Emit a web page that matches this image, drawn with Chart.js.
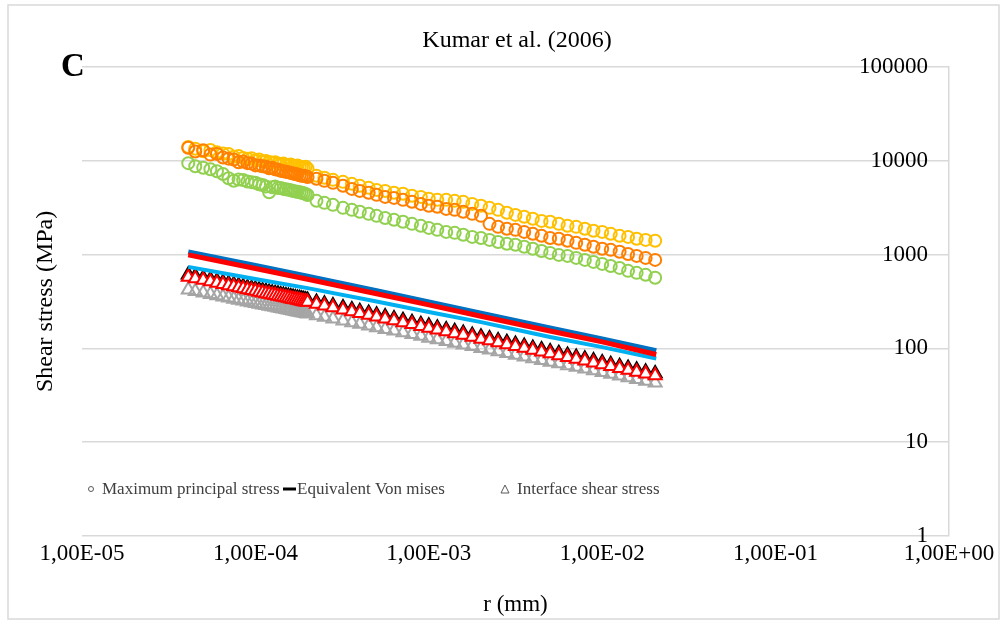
<!DOCTYPE html>
<html>
<head>
<meta charset="utf-8">
<title>Kumar et al. (2006)</title>
<script src="https://cdn.jsdelivr.net/npm/chart.js@4.4.1/dist/chart.umd.min.js"></script>
<style>
  html, body { margin: 0; padding: 0; background: #fff; }
  #wrap { width: 1007px; height: 624px; }
</style>
</head>
<body>
<div id="wrap"><canvas id="chart" width="1007" height="624"></canvas></div>
<script>
// r (mm) for the marker series
var rPts = [4.1e-5, 4.5e-5, 5.0e-5, 5.5e-5, 6.0e-5, 6.5e-5, 7.0e-5, 7.5e-5, 8.0e-5, 8.5e-5, 9.0e-5,
  9.5e-5, 1.0e-4, 1.05e-4, 1.1e-4, 1.15e-4, 1.2e-4, 1.25e-4, 1.3e-4, 1.35e-4, 1.4e-4, 1.45e-4,
  1.5e-4, 1.55e-4, 1.6e-4, 1.65e-4, 1.7e-4, 1.75e-4, 1.8e-4, 1.85e-4, 1.9e-4, 1.95e-4, 2.0e-4,
  2.25e-4, 2.5e-4, 2.8e-4, 3.2e-4, 3.6e-4, 4.0e-4, 4.5e-4, 5.0e-4, 5.6e-4, 6.3e-4, 7.1e-4, 8.0e-4,
  9.0e-4, 1.0e-3, 1.12e-3, 1.26e-3, 1.41e-3, 1.58e-3, 1.78e-3, 2.0e-3,
  2.24e-3, 2.51e-3, 2.82e-3, 3.16e-3, 3.55e-3, 3.98e-3, 4.47e-3, 5.01e-3, 5.62e-3, 6.31e-3, 7.08e-3,
  7.94e-3, 8.91e-3, 1.0e-2, 1.12e-2, 1.26e-2, 1.41e-2, 1.58e-2, 1.78e-2, 2.02e-2];

// maximum principal stress (circles)
var yellowCirc = [14000, 13400, 12600, 13000, 12300, 11900, 11800, 11000, 11200, 10700, 10500, 10600, 10100,
  10300, 9800, 9900, 9700, 9500, 9600, 9300, 9200, 9300, 9000, 8900, 9100, 8800, 8700, 8900, 8600, 8500, 8400, 8600, 8200,
  6890, 6560, 6240, 5940, 5660, 5390, 5130, 4880, 4760, 4540, 4430, 4220, 4110, 3920, 3820, 3820, 3730, 3640, 3460, 3300,
  3140, 2990, 2780, 2640, 2520, 2400, 2280, 2230, 2120, 2020, 1970, 1880, 1790, 1740, 1660, 1580, 1540, 1470, 1430, 1400];
var orangeCirc = [13700, 12500, 12900, 11600, 11800, 10800, 10500, 10300, 9600, 9800, 9400, 9300, 8900,
  8900, 8700, 8600, 8300, 8400, 8100, 8000, 7800, 7700, 7600, 7500, 7400, 7300, 7200, 7100, 7000, 6900, 6900, 6800, 6700,
  6400, 6090, 5800, 5390, 5000, 4760, 4540, 4320, 4110, 4010, 3820, 3640, 3460, 3300, 3220, 3060, 2990, 2850, 2710, 2580,
  2120, 1970, 1880, 1830, 1740, 1660, 1580, 1500, 1470, 1400, 1330, 1270, 1210, 1150, 1120, 1070, 1010, 966, 920, 876];
var greenCirc = [9400, 8700, 8400, 8100, 7700, 7200, 6500, 6100, 6300, 6200, 6000, 5900, 5800,
  5600, 5500, 5300, 4600, 5200, 5300, 5100, 5100, 5000, 4950, 4900, 4850, 4750, 4700, 4650, 4600, 4550, 4500, 4400, 4300,
  3730, 3550, 3380, 3140, 2990, 2850, 2710, 2580, 2450, 2340, 2230, 2120, 2020, 1920, 1830, 1740, 1700, 1620, 1540, 1500,
  1430, 1360, 1300, 1270, 1210, 1150, 1090, 1040, 990, 966, 920, 876, 834, 794, 755, 719, 669, 637, 607, 564];

// interface shear stress (triangles)
var blackTri = [607, 585, 561, 541, 523, 507, 492, 479, 467, 456, 446, 437, 428, 420, 412, 405, 399, 392, 387,
  381, 375, 370, 365, 361, 356, 352, 348, 344, 341, 337, 333, 330, 327,
  312, 299, 286, 272, 260, 249, 238, 228, 218, 208, 199, 190, 181, 174, 166, 159, 152, 146, 139, 133,
  127, 121, 116, 111, 106, 101, 96.9, 92.7, 88.6, 84.7, 80.9, 77.4, 74.0, 70.7, 67.7, 64.6, 61.8, 59.1, 56.4, 54.0];
var redTri = [577, 556, 533, 514, 497, 482, 467, 455, 444, 433, 424, 415, 407, 399, 391, 385, 379, 372, 368,
  362, 356, 352, 347, 343, 338, 334, 331, 327, 324, 320, 316, 314, 311,
  296, 284, 272, 258, 247, 237, 226, 217, 207, 198, 189, 181, 172, 165, 158, 151, 144, 139, 132, 126,
  121, 115, 110, 105, 101, 96, 92, 88, 84, 80.5, 77, 73.5, 70.3, 67.2, 64.3, 61.4, 58.7, 56.1, 53.6, 51.3];
var greyTri = [420, 405, 390, 377, 365, 354, 345, 336, 328, 321, 314, 308, 302, 297, 292, 287, 283, 279, 275,
  271, 267, 264, 261, 257, 254, 251, 249, 246, 244, 241, 239, 237, 234,
  224, 216, 207, 197, 189, 182, 174, 167, 160, 154, 147, 141, 135, 129, 124, 119, 114, 109, 105, 100,
  96.4, 92.3, 88.5, 84.9, 81.3, 78.0, 74.7, 71.6, 68.7, 65.8, 63.1, 60.4, 57.9, 55.6, 53.2, 51.0, 48.9, 46.9, 44.9, 43.0];

// equivalent Von mises (lines)
var rLine = [4.1e-5, 1e-4, 2e-4, 5e-4, 1e-3, 2e-3, 5e-3, 1e-2, 2.05e-2];
var darkBlueLine = [1067, 762, 587, 411, 312, 237, 165, 126, 94.5];
var redLine = [991, 708, 545, 382, 290, 220, 153, 117, 86];
var lightBlueLine = [738, 547, 438, 316, 244, 190, 132, 103, 78];

var xTicks = [1e-5, 1e-4, 1e-3, 1e-2, 1e-1, 1];
var yTicks = [1, 10, 100, 1000, 10000, 100000];

var FONT = "'Liberation Serif', 'Times New Roman', serif";

function pts(xs, ys) {
  return xs.map(function (x, i) { return { x: x, y: ys[i] }; });
}

// 1e-5 -> "1,00E-05"
function fmtE(v) {
  var s = Number(v).toExponential(2).split('e');
  var e = parseInt(s[1], 10);
  var ex = (e < 0 ? '-' : '+') + (Math.abs(e) < 10 ? '0' : '') + Math.abs(e);
  return s[0].replace('.', ',') + 'E' + ex;
}

function lineSet(label, data, color, w) {
  return { label: label, data: pts(rLine, data), showLine: true, borderColor: color,
    backgroundColor: color, borderWidth: w, pointRadius: 0, tension: 0 };
}
function markSet(label, data, color, style, r, fill) {
  return { label: label, data: pts(rPts, data), showLine: false, pointStyle: style,
    pointRadius: r, borderColor: color, pointBorderColor: color, pointBorderWidth: 2,
    pointBackgroundColor: fill, backgroundColor: fill };
}

// frame, panel letter and in-plot legend
var extras = {
  id: 'extras',
  beforeDraw: function (chart) {
    var ctx = chart.ctx;
    ctx.save();
    ctx.fillStyle = '#fff';
    ctx.fillRect(0, 0, chart.width, chart.height);
    ctx.strokeStyle = '#d9d9d9';
    ctx.lineWidth = 1.5;
    ctx.strokeRect(8, 5, 991, 614);
    ctx.restore();
  },
  afterDraw: function (chart) {
    var ctx = chart.ctx;
    ctx.save();
    ctx.fillStyle = '#000';
    ctx.font = 'bold 33px ' + FONT;
    ctx.textAlign = 'center';
    ctx.textBaseline = 'middle';
    ctx.fillText('C', 73, 67);

    var ly = 490;
    ctx.font = '17px ' + FONT;
    ctx.textAlign = 'left';
    ctx.fillStyle = '#404040';
    ctx.strokeStyle = '#595959';
    ctx.lineWidth = 1;
    ctx.beginPath();
    ctx.arc(91, ly - 1, 2.5, 0, Math.PI * 2);
    ctx.stroke();
    ctx.fillText('Maximum principal stress', 102, ly);

    ctx.strokeStyle = '#000';
    ctx.lineWidth = 3;
    ctx.beginPath();
    ctx.moveTo(283, ly - 1);
    ctx.lineTo(296, ly - 1);
    ctx.stroke();
    ctx.fillText('Equivalent Von mises', 297, ly);

    ctx.strokeStyle = '#595959';
    ctx.lineWidth = 1;
    ctx.beginPath();
    ctx.moveTo(505, ly - 5);
    ctx.lineTo(509, ly + 3);
    ctx.lineTo(501, ly + 3);
    ctx.closePath();
    ctx.stroke();
    ctx.fillText('Interface shear stress', 517, ly);
    ctx.restore();
  }
};

new Chart(document.getElementById('chart'), {
  type: 'scatter',
  data: {
    datasets: [
      lineSet('Equivalent Von mises', redLine, '#ff0000', 5),
      lineSet('Equivalent Von mises (2)', darkBlueLine, '#0070c0', 5),
      lineSet('Equivalent Von mises (3)', lightBlueLine, '#00b0f0', 4),
      markSet('Interface shear stress', redTri, '#ff0000', 'triangle', 7.5, '#ffffff'),
      markSet('Interface shear stress (2)', blackTri, '#000000', 'triangle', 7.5, '#ffffff'),
      markSet('Interface shear stress (3)', greyTri, '#a5a5a5', 'triangle', 7.5, 'rgba(255,255,255,0)'),
      markSet('Maximum principal stress', orangeCirc, '#ff7f00', 'circle', 6, 'rgba(255,255,255,0)'),
      markSet('Maximum principal stress (2)', yellowCirc, '#ffc000', 'circle', 6, 'rgba(255,255,255,0)'),
      markSet('Maximum principal stress (3)', greenCirc, '#92d050', 'circle', 6, 'rgba(255,255,255,0)')
    ]
  },
  options: {
    responsive: false,
    animation: false,
    devicePixelRatio: 1,
    layout: { padding: { left: 27, right: 0, top: 0, bottom: 0 } },
    plugins: {
      legend: { display: false },
      tooltip: { enabled: false },
      title: {
        display: true,
        text: 'Kumar et al. (2006)',
        color: '#000',
        font: { family: FONT, size: 24, weight: 'normal' },
        padding: { top: 26, bottom: 12 }
      }
    },
    scales: {
      x: {
        type: 'logarithmic',
        position: 'bottom',
        min: 1e-5,
        max: 1,
        afterBuildTicks: function (s) { s.ticks = xTicks.map(function (v) { return { value: v }; }); },
        afterFit: function (s) { s.height = 88; },
        ticks: {
          autoSkip: false, maxRotation: 0, padding: 4, color: '#000',
          font: { family: FONT, size: 23 },
          callback: function (v) { return fmtE(v); }
        },
        grid: { display: false, drawTicks: false },
        border: { display: false },
        title: {
          display: true, text: 'r (mm)', color: '#000',
          font: { family: FONT, size: 23 },
          padding: { top: 0, bottom: 5 }
        }
      },
      y: {
        type: 'logarithmic',
        position: 'left',
        min: 1,
        max: 100000,
        afterFit: function (s) { s.width = 55; },
        ticks: { display: false },
        grid: { display: false, drawTicks: false },
        border: { display: false },
        title: {
          display: true, text: 'Shear stress (MPa)', color: '#000',
          font: { family: FONT, size: 24 },
          padding: { top: 4, bottom: 0 }
        }
      },
      y2: {
        type: 'logarithmic',
        position: 'right',
        min: 1,
        max: 100000,
        afterBuildTicks: function (s) { s.ticks = yTicks.map(function (v) { return { value: v }; }); },
        afterFit: function (s) { s.width = 58; },
        ticks: {
          mirror: true, padding: -21, color: '#000',
          font: { family: FONT, size: 23 },
          callback: function (v) { return String(v); }
        },
        grid: { color: '#d9d9d9', lineWidth: 1.5, drawTicks: false },
        border: { display: true, color: '#d9d9d9', width: 1.5 }
      }
    }
  },
  plugins: [extras]
});
</script>
</body>
</html>
